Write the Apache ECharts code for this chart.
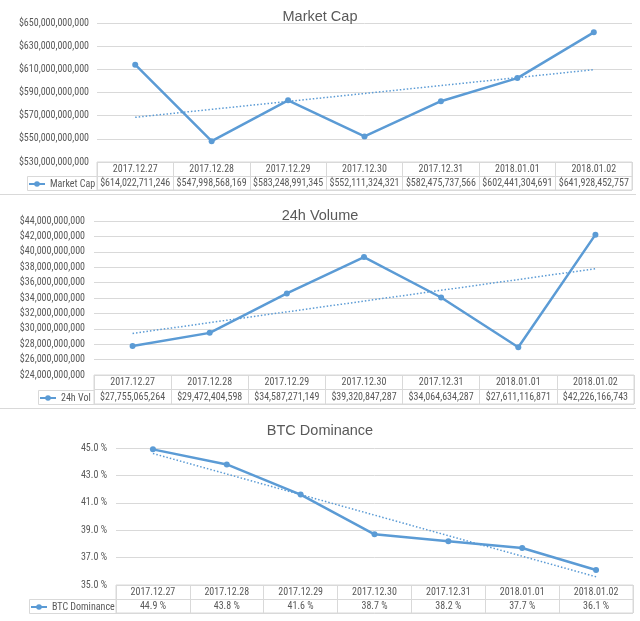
<!DOCTYPE html>
<html><head><meta charset="utf-8">
<script src="https://cdn.jsdelivr.net/npm/echarts@6/dist/echarts.min.js"></script>
<style>html,body{margin:0;padding:0;background:#fff}#c{width:640px;height:621px}</style>
</head><body><div id="c"></div>
<script>
// ---- data ----
const dates = ['2017.12.27','2017.12.28','2017.12.29','2017.12.30','2017.12.31','2018.01.01','2018.01.02'];
const marketCap = [614022711246, 547998568169, 583248991345, 552111324321, 582475737566, 602441304691, 641928452757];
const marketCapTrend = [568.6e9, 609.7e9];      // dotted trendline start / end
const volume = [27755065264, 29472404598, 34587271149, 39320847287, 34064634287, 27611116871, 42226166743];
const volumeTrend = [29.4e9, 37.8e9];
const dominance = [44.9, 43.8, 41.6, 38.7, 38.2, 37.7, 36.1];
const dominanceTrend = [44.6, 35.6];
const titles = ['Market Cap', '24h Volume', 'BTC Dominance'];
const seriesNames = ['Market Cap', '24h Vol', 'BTC Dominance'];
const axisRanges = [[530e9, 650e9, 20e9], [24e9, 44e9, 2e9], [35, 45, 2]];

// ---- styling / layout ----
const BLUE = '#5B9BD5', GRID = '#D9D9D9', TXT = '#595959';
const FONT = '"Liberation Sans Narrow", "Roboto Condensed", "Liberation Sans", sans-serif';
const money = v => '$' + Math.round(v).toLocaleString('en-US');
const pct = v => v.toFixed(1) + ' %';
const layout = [
  {left:97, right:8, top:23, bottom:162, tableH:28, cell:[27,176,70,14], titleTop:4, margin:8},
  {left:94, right:6, top:221, bottom:375, tableH:29, cell:[38,390,56,14], titleTop:203, margin:9},
  {left:116, right:7, top:448, bottom:585, tableH:28, cell:[29,599,87,14], titleTop:418, margin:9}
];
const panels = [
  {values: marketCap, trend: marketCapTrend, fmt: money},
  {values: volume, trend: volumeTrend, fmt: money},
  {values: dominance, trend: dominanceTrend, fmt: pct}
];

const grid = [], xAxis = [], yAxis = [], series = [], legend = [], title = [], graphic = [];
panels.forEach((p, k) => {
  const L = layout[k];
  const [mn, mx, step] = axisRanges[k];
  grid.push({left:L.left, right:L.right, top:L.top, height:L.bottom - L.top});
  grid.push({left:L.left, right:L.right, top:L.bottom, height:L.tableH, show:true, borderColor:GRID, borderWidth:1});
  const gC = 2*k, gT = 2*k+1;
  // chart axes
  xAxis.push({type:'category', gridIndex:gC, data:dates, show:false});
  yAxis.push({type:'value', gridIndex:gC, min:mn, max:mx, interval:step,
    axisLine:{show:false}, axisTick:{show:false},
    splitLine:{lineStyle:{color:GRID, width:1}},
    axisLabel:{formatter: p.fmt, fontFamily:FONT, fontSize:10, color:TXT, margin:L.margin}});
  // table axes
  xAxis.push({type:'category', gridIndex:gT, data:dates, position:'top',
    axisLine:{show:false}, axisTick:{show:false},
    splitLine:{show:true, interval:0, lineStyle:{color:GRID}},
    axisLabel:{interval:0, margin:-12, fontFamily:FONT, fontSize:10, color:TXT}});
  xAxis.push({type:'category', gridIndex:gT, data:p.values.map(p.fmt), position:'bottom',
    axisLine:{show:false}, axisTick:{show:false}, splitLine:{show:false},
    axisLabel:{interval:0, margin:-12, fontFamily:FONT, fontSize:10, color:TXT}});
  yAxis.push({type:'category', gridIndex:gT, data:['r1','r2'],
    axisLine:{show:false}, axisTick:{show:false}, axisLabel:{show:false},
    splitLine:{show:true, interval:0, lineStyle:{color:GRID}}});
  // series
  series.push({name:seriesNames[k], type:'line', xAxisIndex:3*k, yAxisIndex:2*k, data:p.values,
    symbol:'circle', symbolSize:6, lineStyle:{color:BLUE, width:2.5}, itemStyle:{color:BLUE}});
  const n = dates.length;
  series.push({name:seriesNames[k] + ' trend', type:'line', xAxisIndex:3*k, yAxisIndex:2*k,
    data: dates.map((d, i) => i === 0 ? p.trend[0] : (i === n-1 ? p.trend[1] : null)),
    connectNulls:true, symbol:'none', silent:true,
    lineStyle:{color:BLUE, width:1.5, type:[1.5,2]}});
  // legend cell
  const [cx, cy, cw, ch] = L.cell;
  graphic.push({type:'rect', shape:{x:cx+0.5, y:cy+0.5, width:cw, height:ch}, style:{stroke:GRID, fill:null, lineWidth:1}, z:5});
  legend.push({data:[seriesNames[k]], left:cx+1, top:cy+3, padding:0, itemWidth:16, itemHeight:7, itemGap:2,
    textStyle:{fontFamily:FONT, fontSize:10, color:TXT}, selectedMode:false});
  title.push({text:titles[k], left:'center', top:L.titleTop,
    textStyle:{fontFamily:'"Liberation Sans", sans-serif', fontSize:14.5, fontWeight:'normal', color:TXT}});
});
// panel separators
graphic.push({type:'line', shape:{x1:0, y1:194.5, x2:636, y2:194.5}, style:{stroke:GRID, lineWidth:1}});
graphic.push({type:'line', shape:{x1:0, y1:408.5, x2:636, y2:408.5}, style:{stroke:GRID, lineWidth:1}});

const chart = echarts.init(document.getElementById('c'), null, {renderer:'canvas'});
chart.setOption({animation:false, backgroundColor:'#fff', title, grid, xAxis, yAxis, series, legend, graphic});
</script></body></html>
